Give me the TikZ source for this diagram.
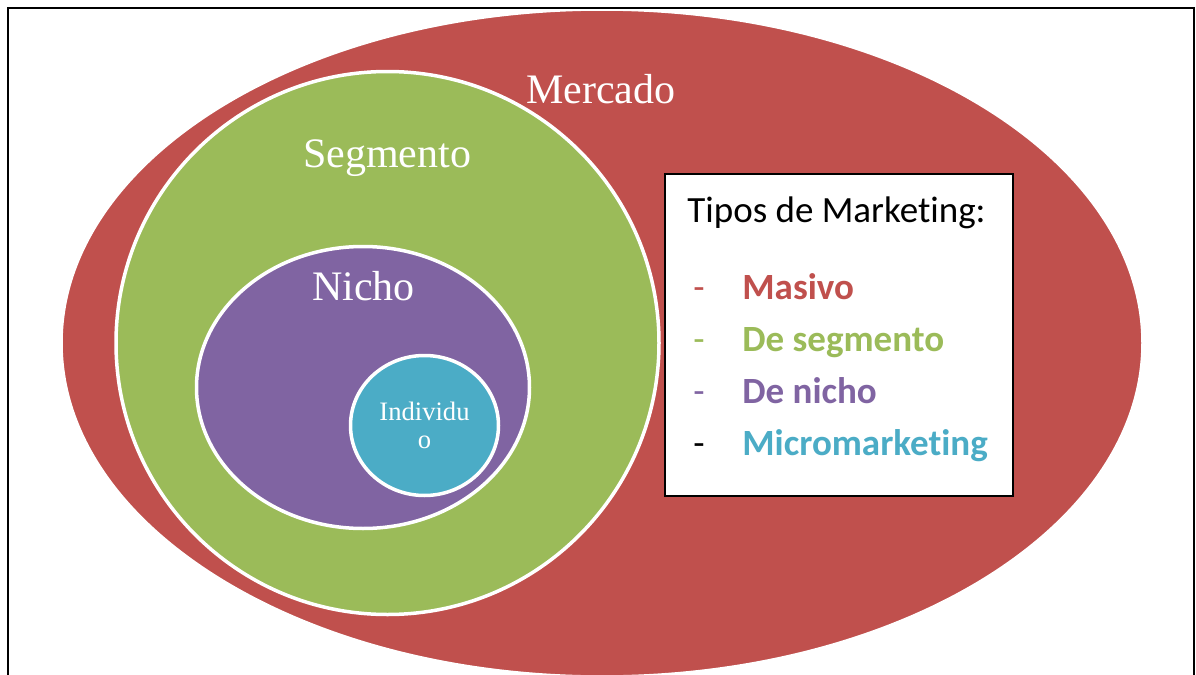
\documentclass[tikz,border=0pt]{standalone}
\usepackage{fontspec}
\setmainfont{Liberation Serif}
\newfontfamily\boxfont[Ligatures=CommonOff]{Carlito}
\usepackage{tikz}
\usetikzlibrary{shapes.geometric,positioning}
\definecolor{mred}{HTML}{C0504D}
\definecolor{mgreen}{HTML}{9BBB59}
\definecolor{mpurple}{HTML}{8064A2}
\definecolor{mblue}{HTML}{4BACC6}
\tikzset{
    %Define style for the market sets
    conjunto/.style={
           ellipse,
           draw=white, line width=1.75pt,
           inner sep=0pt},
    %Define style for set names
    nombre/.style={
           anchor=base,
           text=white,
           font=\fontsize{21}{25}\selectfont},
    %Define style for the legend box
    cuadro/.style={
           rectangle,
           draw=black, line width=0.8pt,
           fill=white,
           inner sep=0pt},
    leyenda/.style={
           anchor=base west,
           inner sep=0pt,
           font=\boxfont\fontsize{18.5}{22}\selectfont},
    tipo/.style={
           anchor=base west,
           inner sep=0pt,
           font=\boxfont\bfseries\fontsize{18.5}{22}\selectfont}
}
\begin{document}
\begin{tikzpicture}[x=0.5pt,y=-0.5pt]
\useasboundingbox (0,0) rectangle (1196,675);

 %sets
\node[conjunto, fill=mred, minimum width=541pt, minimum height=334pt] (mercado) at (602,343) {};
\node[conjunto, fill=mgreen, minimum width=271.5pt, minimum height=271.5pt] (segmento) at (387.5,343) {};
\node[conjunto, fill=mpurple, minimum width=166.5pt, minimum height=141pt] (nicho) at (363,387.5) {};
\node[conjunto, fill=mblue, minimum width=74pt, minimum height=70pt] (individuo) at (424.5,425.5) {};

 %names
\node[nombre] (tmercado) at (601,103) {Mercado};
\node[nombre] (tsegmento) at (387,167) {Segmento};
\node[nombre] (tnicho) at (363.5,300) {Nicho};
\node[text=white, align=center, inner sep=0pt, font=\fontsize{13.3}{13.7}\selectfont] (tindividuo) at (individuo) {Individu\\o};

 %legend
\node[cuadro, minimum width=174pt, minimum height=161pt] (tipos) at (839,335) {};
\node[leyenda] (titulo) at (687,222) {Tipos de Marketing:};
\node[leyenda, text=mred] (g1) at (693,299) {-};
\node[leyenda, text=mgreen] (g2) at (693,351.5) {-};
\node[leyenda, text=mpurple] (g3) at (693,403.5) {-};
\node[leyenda, text=black] (g4) at (693,455.5) {-};
\node[tipo, text=mred] (masivo) at (742,299) {Masivo};
\node[tipo, text=mgreen] (desegmento) at (742,351.5) {De segmento};
\node[tipo, text=mpurple] (denicho) at (742,403.5) {De nicho};
\node[tipo, text=mblue] (micro) at (742,455.5) {Micromarketing};

 %frame
\draw[line width=1pt] (8,675) -- (8,8) -- (1194,8) -- (1194,675);

\end{tikzpicture}
\end{document}
